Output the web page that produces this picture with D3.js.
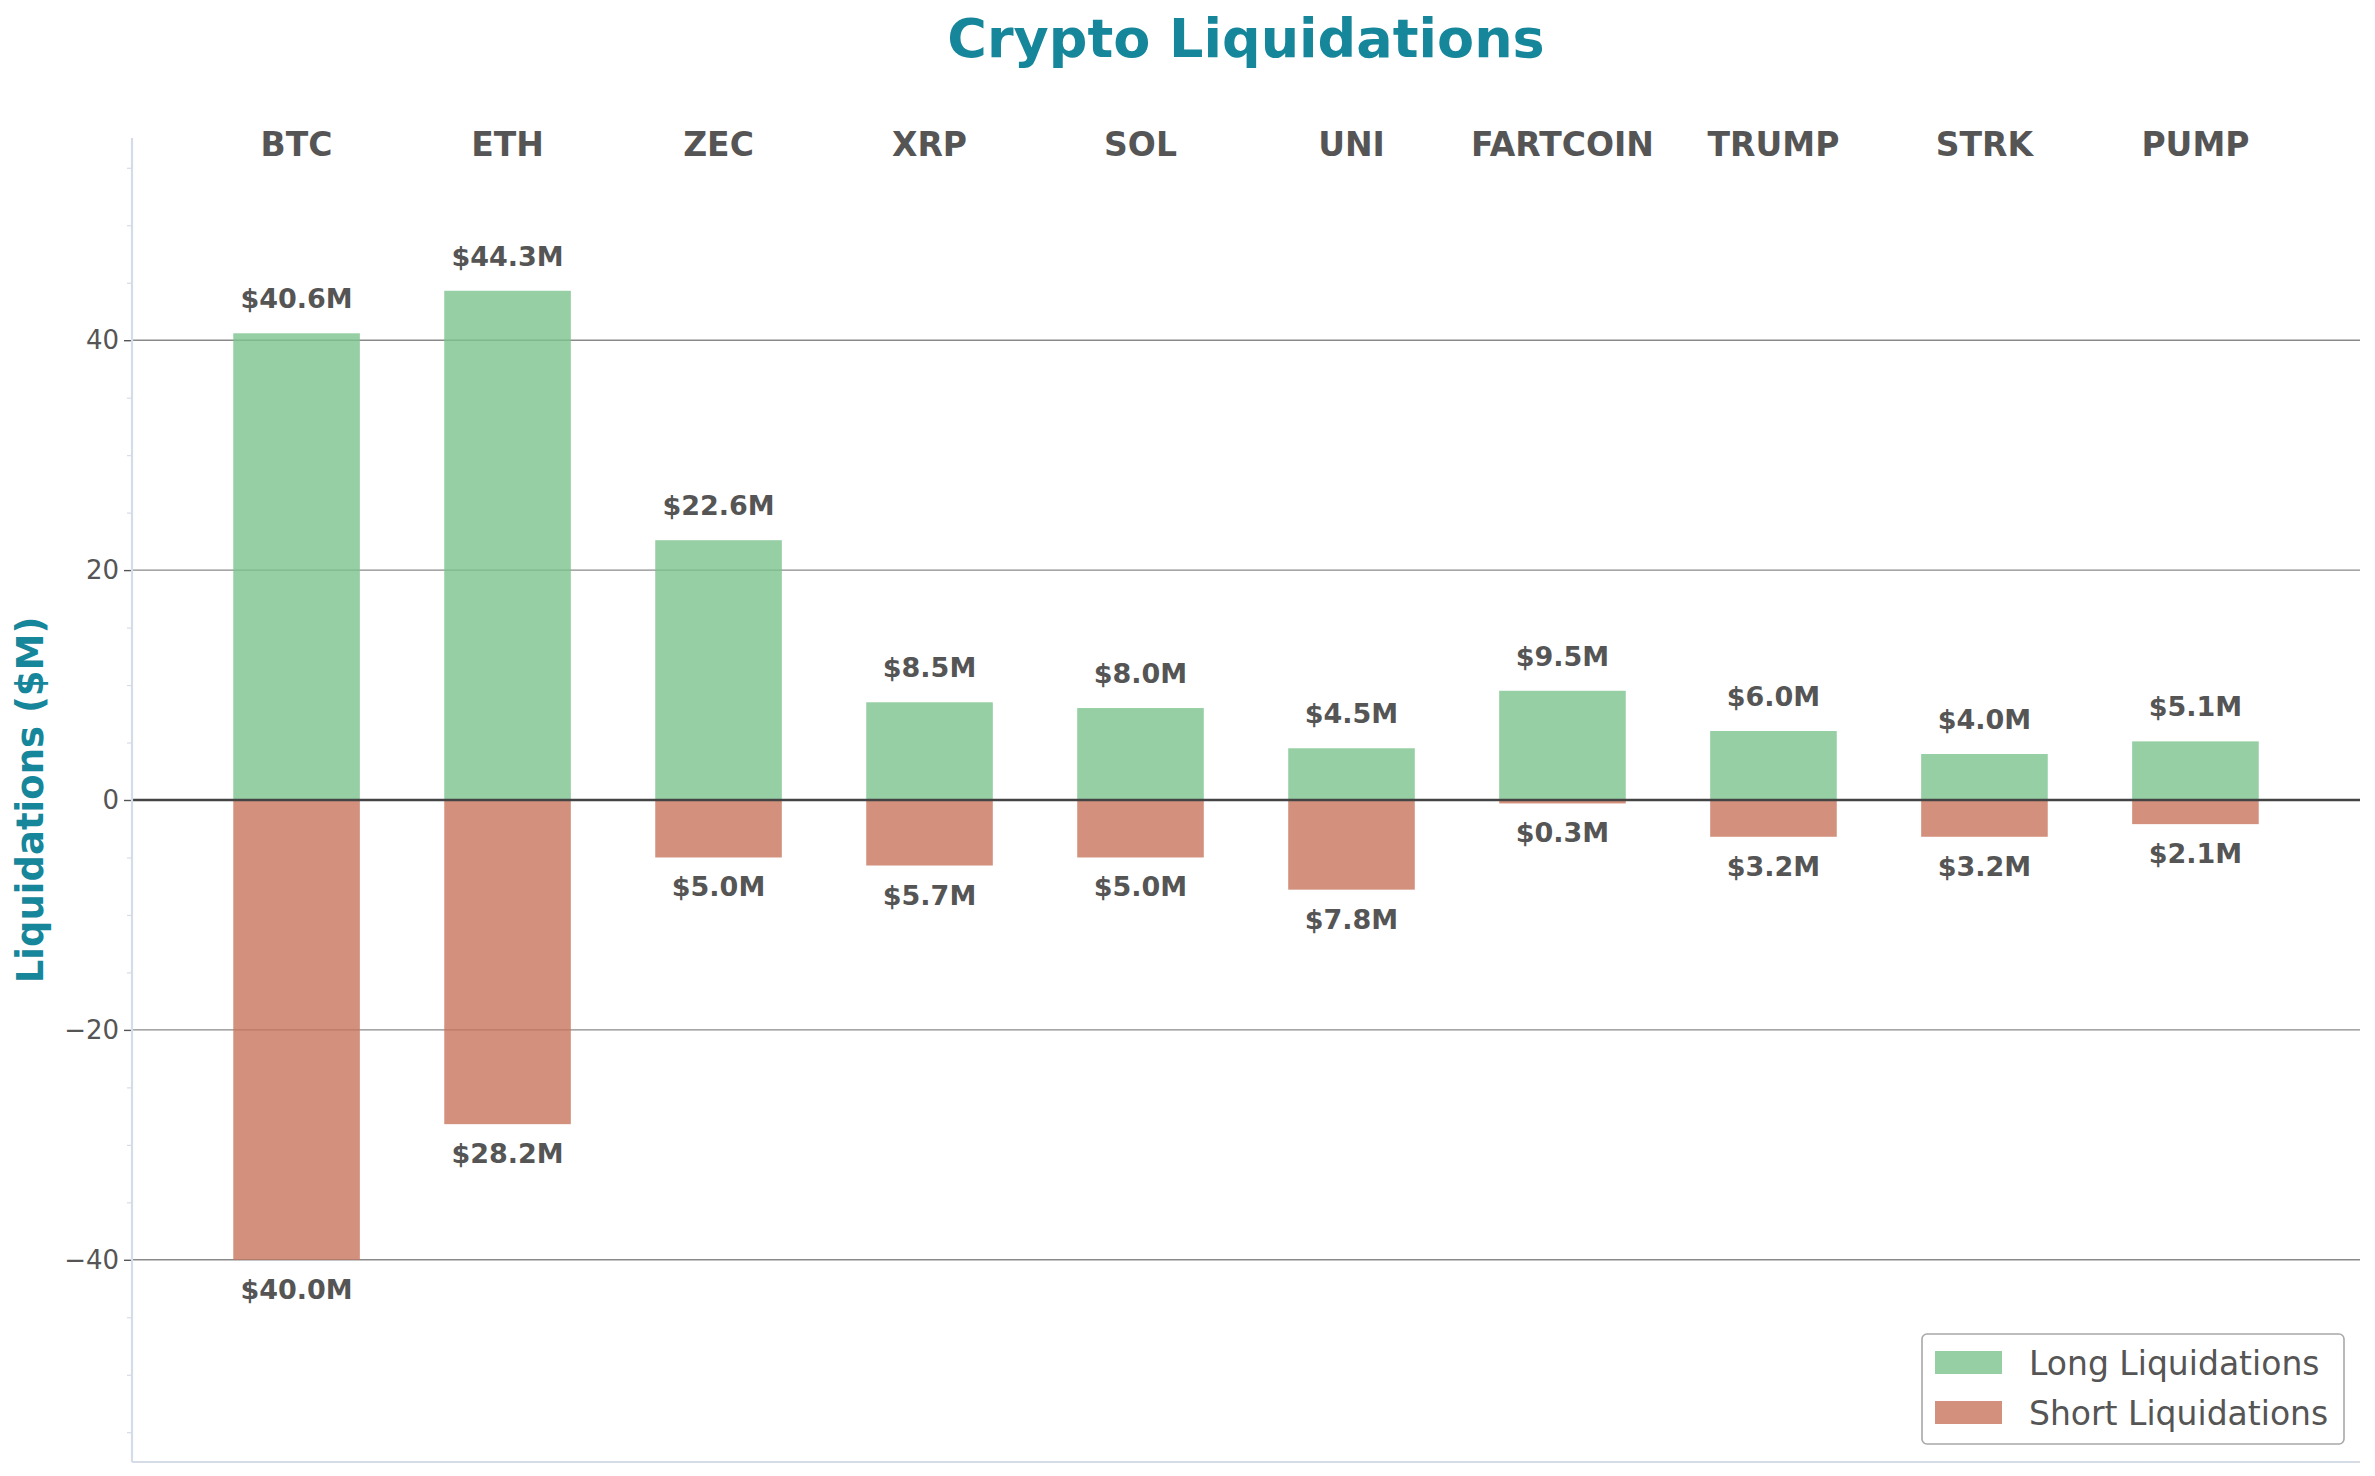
<!DOCTYPE html>
<html>
<head>
<meta charset="utf-8">
<script src="https://cdn.jsdelivr.net/npm/d3@7"></script>
<style>
  html, body { margin: 0; padding: 0; background: #fff; }
  svg { display: block; font-family: "DejaVu Sans", sans-serif; }
</style>
</head>
<body>
<svg id="chart" width="2375" height="1476"></svg>
<script>
const categories = ["BTC", "ETH", "ZEC", "XRP", "SOL", "UNI", "FARTCOIN", "TRUMP", "STRK", "PUMP"];
const longValues = [40.6, 44.3, 22.6, 8.5, 8.0, 4.5, 9.5, 6.0, 4.0, 5.1];
const shortValues = [40.0, 28.2, 5.0, 5.7, 5.0, 7.8, 0.3, 3.2, 3.2, 2.1];
const yTicks = [-40, -20, 0, 20, 40];
const seriesNames = ["Long Liquidations", "Short Liquidations"];

(function () {
const W = 2375, H = 1476;
const pL = 132, pR = 2360, pT = 138, pB = 1462;
const maxV = d3.max([...longValues, ...shortValues]) * 1.3;

const svg = d3.select("#chart");
const x = d3.scaleLinear().domain([-0.78, categories.length - 1 + 0.78]).range([pL, pR]);
const y = d3.scaleLinear().domain([-maxV, maxV]).range([pB, pT]);
const barW = (x(1) - x(0)) * 0.6;

const green = "rgb(122,195,140)";
const red = "rgb(200,117,92)";
const txt = "#555555";

// Title
svg.append("text").attr("x", (pL + pR) / 2).attr("y", 57)
  .attr("text-anchor", "middle").attr("font-size", 54).attr("font-weight", "bold")
  .attr("fill", "#16869b").text("Crypto Liquidations");

// Y axis label
svg.append("text").attr("transform", `translate(43,${(pT + pB) / 2}) rotate(-90)`)
  .attr("text-anchor", "middle").attr("font-size", 37).attr("font-weight", "bold")
  .attr("fill", "#16869b").text("Liquidations ($M)");

// Grid lines
svg.append("g").selectAll("line").data(yTicks.filter(t => t !== 0)).join("line")
  .attr("x1", pL).attr("x2", pR)
  .attr("y1", d => y(d)).attr("y2", d => y(d))
  .attr("stroke", "#8a8a8a").attr("stroke-width", 1.4);

// Y axis with minor ticks
const minorTicks = d3.range(-55, 56, 5).filter(t => t % 20 !== 0);
const minorAxis = d3.axisLeft(y).tickValues(minorTicks).tickSize(5).tickFormat("");
const gMinor = svg.append("g").attr("transform", `translate(${pL},0)`).call(minorAxis);
gMinor.select(".domain").remove();
gMinor.selectAll(".tick line").attr("stroke", "#d5dce8").attr("stroke-width", 1.2);

const yAxis = d3.axisLeft(y).tickValues(yTicks).tickSize(8).tickPadding(5)
  .tickFormat(d => d < 0 ? "\u2212" + Math.abs(d) : String(d));
const gY = svg.append("g").attr("transform", `translate(${pL},0)`).call(yAxis);
gY.select(".domain").remove();
gY.selectAll(".tick line").attr("stroke", "#555").attr("stroke-width", 1.4);
gY.selectAll(".tick text").attr("font-size", 26).attr("fill", txt)
  .attr("font-family", "DejaVu Sans, sans-serif");

// Bars
svg.append("g").selectAll("rect").data(longValues).join("rect")
  .attr("x", (d, i) => x(i) - barW / 2).attr("width", barW)
  .attr("y", d => y(d)).attr("height", d => y(0) - y(d))
  .attr("fill", green).attr("fill-opacity", 0.8);
svg.append("g").selectAll("rect").data(shortValues).join("rect")
  .attr("x", (d, i) => x(i) - barW / 2).attr("width", barW)
  .attr("y", y(0)).attr("height", d => y(-d) - y(0))
  .attr("fill", red).attr("fill-opacity", 0.8);

// Zero line
svg.append("line").attr("x1", pL).attr("x2", pR)
  .attr("y1", y(0)).attr("y2", y(0))
  .attr("stroke", "#444").attr("stroke-width", 2.6);

// Spines
svg.append("line").attr("x1", pL).attr("x2", pL).attr("y1", pT).attr("y2", pB)
  .attr("stroke", "#d5dce8").attr("stroke-width", 2.2);
svg.append("line").attr("x1", pL).attr("x2", pR).attr("y1", pB).attr("y2", pB)
  .attr("stroke", "#d5dce8").attr("stroke-width", 2.2);

// Value labels
svg.append("g").selectAll("text").data(longValues).join("text")
  .attr("x", (d, i) => x(i)).attr("y", d => y(d) - 25)
  .attr("text-anchor", "middle").attr("font-size", 27).attr("font-weight", "bold")
  .attr("fill", txt).text(d => "$" + d.toFixed(1) + "M");
svg.append("g").selectAll("text").data(shortValues).join("text")
  .attr("x", (d, i) => x(i)).attr("y", d => y(-d) + 39)
  .attr("text-anchor", "middle").attr("font-size", 27).attr("font-weight", "bold")
  .attr("fill", txt).text(d => "$" + d.toFixed(1) + "M");

// Category labels at top
svg.append("g").selectAll("text").data(categories).join("text")
  .attr("x", (d, i) => x(i)).attr("y", 156)
  .attr("text-anchor", "middle").attr("font-size", 33).attr("font-weight", "bold")
  .attr("fill", txt).text(d => d);

// Legend
const lg = svg.append("g");
lg.append("rect").attr("x", 1922).attr("y", 1334).attr("width", 422).attr("height", 110)
  .attr("rx", 5).attr("fill", "#fff").attr("fill-opacity", 0.8)
  .attr("stroke", "#a8a8a8").attr("stroke-width", 1.6);
const colors = [green, red];
seriesNames.forEach((name, i) => {
  lg.append("rect").attr("x", 1935).attr("y", 1351 + i * 50).attr("width", 67).attr("height", 23)
    .attr("fill", colors[i]).attr("fill-opacity", 0.8);
  lg.append("text").attr("x", 2029).attr("y", 1375 + i * 50)
    .attr("font-size", 33).attr("fill", txt).text(name);
});
})();
</script>
</body>
</html>
